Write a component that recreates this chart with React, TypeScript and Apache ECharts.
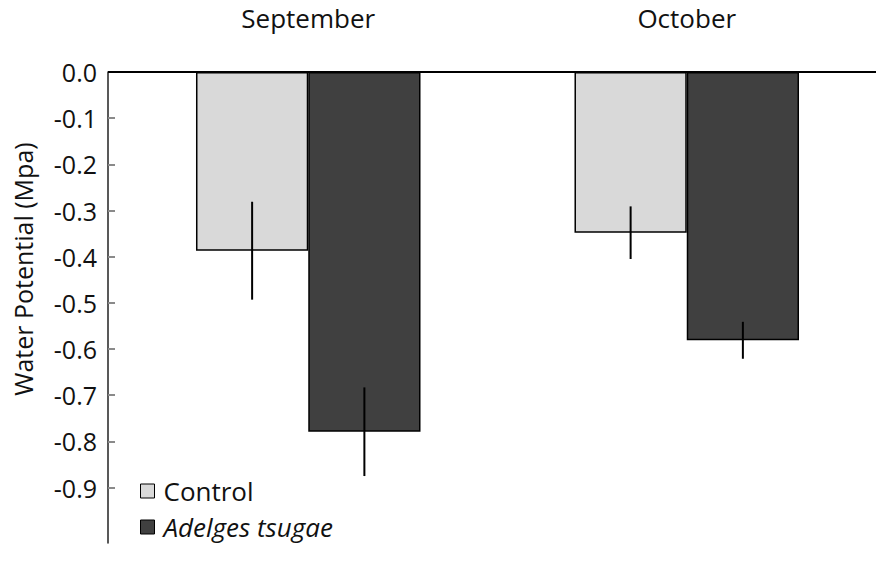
import React, { useEffect, useRef } from "react";
import * as echarts from "echarts";

const categories = ["September", "October"];
const controlValues = [-0.387, -0.348];
const adelgesValues = [-0.779, -0.581];
const controlErrors = [0.106, 0.057];
const adelgesErrors = [0.096, 0.04];
const yTickValues = [0, -0.1, -0.2, -0.3, -0.4, -0.5, -0.6, -0.7, -0.8, -0.9];
const yAxisTitle = "Water Potential (Mpa)";

const FONT = "Open Sans";
const BAR_FRACTION = 0.2966;

export default function App() {
  const ref = useRef<HTMLDivElement>(null);
  useEffect(() => {
    if (!ref.current) return;
    const chart = echarts.init(ref.current, null, { renderer: "svg" });
    const errorData: number[][] = [];
    categories.forEach((_, i) => {
      errorData.push([i, controlValues[i] - controlErrors[i], controlValues[i] + controlErrors[i], -1]);
      errorData.push([i, adelgesValues[i] - adelgesErrors[i], adelgesValues[i] + adelgesErrors[i], 1]);
    });
    chart.setOption({
      animation: false,
      backgroundColor: "#fff",
      textStyle: { fontFamily: FONT },
      grid: { left: 119, right: -5, top: 72, bottom: 23, containLabel: false },
      xAxis: {
        type: "category",
        position: "top",
        data: categories,
        axisLine: { show: true, lineStyle: { color: "#000", width: 2 } },
        axisTick: { show: false },
        axisLabel: { color: "#111", fontSize: 26, fontFamily: FONT, margin: 41 },
        splitLine: { show: false },
      },
      yAxis: {
        type: "value",
        min: -1.02,
        max: 0,
        offset: 11,
        axisLine: { show: true, lineStyle: { color: "#222", width: 1.5 } },
        axisTick: {
          show: true,
          inside: true,
          length: 7,
          customValues: yTickValues,
          lineStyle: { color: "#8a8a8a", width: 2 },
        },
        axisLabel: {
          color: "#111",
          fontSize: 25,
          fontFamily: FONT,
          margin: 11,
          customValues: yTickValues,
          formatter: (v: number) => (Math.abs(v) < 1e-9 ? "0.0" : v.toFixed(1)),
        },
        splitLine: { show: false },
      },
      legend: {
        orient: "vertical",
        left: 135,
        top: 472,
        itemWidth: 14,
        itemHeight: 14,
        itemGap: 8,
        icon: "rect",
        textStyle: {
          color: "#111",
          fontSize: 26,
          fontFamily: FONT,
          lineHeight: 28,
          padding: [0, 0, 0, 4],
          rich: { i: { fontStyle: "italic", fontSize: 26, fontFamily: FONT, color: "#111", lineHeight: 28 } },
        },
        formatter: (name: string) => (name === "Adelges tsugae" ? "{i|" + name + "}" : name),
        data: [
          { name: "Control", itemStyle: { color: "#d9d9d9", borderColor: "#000", borderWidth: 1 } },
          { name: "Adelges tsugae", itemStyle: { color: "#404040", borderColor: "#000", borderWidth: 1 } },
        ],
      },
      graphic: [
        {
          type: "line",
          shape: { x1: 108, y1: 72, x2: 120, y2: 72 },
          style: { stroke: "#000", lineWidth: 2 },
          z: 100,
        },
        {
          type: "text",
          x: 23,
          y: 269,
          rotation: Math.PI / 2,
          style: {
            text: yAxisTitle,
            fontSize: 25,
            fontFamily: FONT,
            fill: "#111",
            align: "center",
            verticalAlign: "middle",
          },
        },
      ],
      series: [
        {
          name: "Control",
          type: "bar",
          data: controlValues,
          barWidth: (BAR_FRACTION * 100).toFixed(2) + "%",
          barGap: "0%",
          itemStyle: { color: "#d9d9d9", borderColor: "#000", borderWidth: 1.5 },
        },
        {
          name: "Adelges tsugae",
          type: "bar",
          data: adelgesValues,
          barWidth: (BAR_FRACTION * 100).toFixed(2) + "%",
          barGap: "0%",
          itemStyle: { color: "#404040", borderColor: "#000", borderWidth: 1.5 },
        },
        {
          name: "errors",
          type: "custom",
          z: 10,
          data: errorData,
          encode: { x: 0, y: [1, 2] },
          renderItem: (params: any, api: any) => {
            const c = api.value(0);
            const lo = api.coord([c, api.value(1)]);
            const hi = api.coord([c, api.value(2)]);
            const band = api.size([1, 0])[0];
            const x = lo[0] + (api.value(3) * band * BAR_FRACTION) / 2;
            return {
              type: "line",
              shape: { x1: x, y1: lo[1], x2: x, y2: hi[1] },
              style: { stroke: "#000", lineWidth: 2 },
            };
          },
        },
      ],
    });
    return () => chart.dispose();
  }, []);
  return <div ref={ref} style={{ width: 876, height: 566, position: "absolute", left: 0, top: 0 }} />;
}
